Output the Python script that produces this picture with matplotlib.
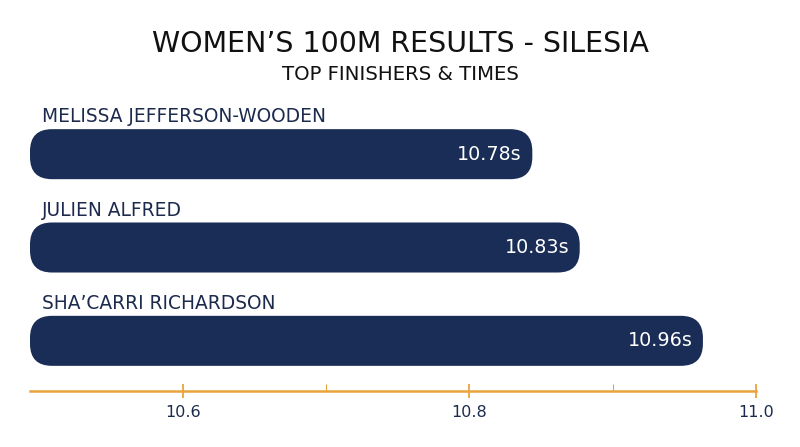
import matplotlib
matplotlib.use("Agg")
import matplotlib.pyplot as plt
from matplotlib.patches import FancyBboxPatch

# data
athletes = ["MELISSA JEFFERSON-WOODEN", "JULIEN ALFRED", "SHA\u2019CARRI RICHARDSON"]
times = [10.78, 10.83, 10.96]
time_labels = ["10.78s", "10.83s", "10.96s"]
tick_major = [10.6, 10.8, 11.0]
tick_minor = [10.7, 10.9]
tick_labels = ["10.6", "10.8", "11.0"]

NAVY = "#1a2d56"
TEXT = "#1c2a4e"
ORANGE = "#e9a33b"

W, H = 800, 447
plt.rcParams['font.family'] = ['DejaVu Sans']

fig = plt.figure(figsize=(W / 100, H / 100), dpi=100)


def px_rect(x0, y0, x1, y1):
    # pixel box (top-left origin) -> figure fraction
    return [x0 / W, 1 - y1 / H, (x1 - x0) / W, (y1 - y0) / H]


# bars
ax = fig.add_axes(px_rect(30, 107.5, 756, 387.5))
bar_lo, bar_hi = 10.25, 11.016
ax.set_xlim(bar_lo, bar_hi)
ax.set_ylim(2.5, -0.5)
ax.axis("off")

bar_h = 0.536
bars = ax.barh(range(len(times)), [t - bar_lo for t in times], left=bar_lo,
               height=bar_h, color=NAVY)

x_per_px = (bar_hi - bar_lo) / 726
y_per_px = 3.0 / 280
radius = 22 * x_per_px
for b in bars:
    b.set_visible(False)
    fb = FancyBboxPatch((b.get_x(), b.get_y()), b.get_width(), b.get_height(),
                        boxstyle=f"round,pad=0,rounding_size={radius}",
                        mutation_aspect=y_per_px / x_per_px,
                        facecolor=NAVY, edgecolor="none")
    ax.add_patch(fb)

for i, (name, t, lab) in enumerate(zip(athletes, times, time_labels)):
    ax.annotate(name, xy=(bar_lo, i - bar_h / 2), xytext=(8.6, 5),
                textcoords="offset points", ha="left", va="baseline",
                fontsize=13.4, color=TEXT, annotation_clip=False)
    ax.annotate(lab, xy=(t, i), xytext=(-7.5, 0), textcoords="offset points",
                ha="right", va="center", fontsize=13.8, color="white")

# axis line with ticks
ax2 = fig.add_axes(px_rect(30, 381.3, 756, 391.3))
ax2.set_xlim(10.4934, 11.0)
ax2.patch.set_alpha(0)
for s in ["top", "left", "right"]:
    ax2.spines[s].set_visible(False)
ax2.spines["bottom"].set_color(ORANGE)
ax2.spines["bottom"].set_linewidth(1.8)
ax2.set_yticks([])
ax2.set_xticks(tick_major)
ax2.set_xticklabels(tick_labels)
ax2.set_xticks(tick_minor, minor=True)
ax2.tick_params(axis="x", which="major", direction="inout", length=10,
                width=1.3, color=ORANGE, labelsize=11.5, labelcolor=TEXT, pad=5)
ax2.tick_params(axis="x", which="minor", direction="in", length=5,
                width=0.8, color=ORANGE)

fig.text(0.5, 1 - 44 / H, "WOMEN\u2019S 100M RESULTS - SILESIA", ha="center",
         va="center", fontsize=20.5, color="#111111")
fig.text(0.5, 1 - 74 / H, "TOP FINISHERS & TIMES", ha="center", va="center",
         fontsize=14.2, color="#111111")

fig.savefig("out.png", dpi=100, facecolor="white")
